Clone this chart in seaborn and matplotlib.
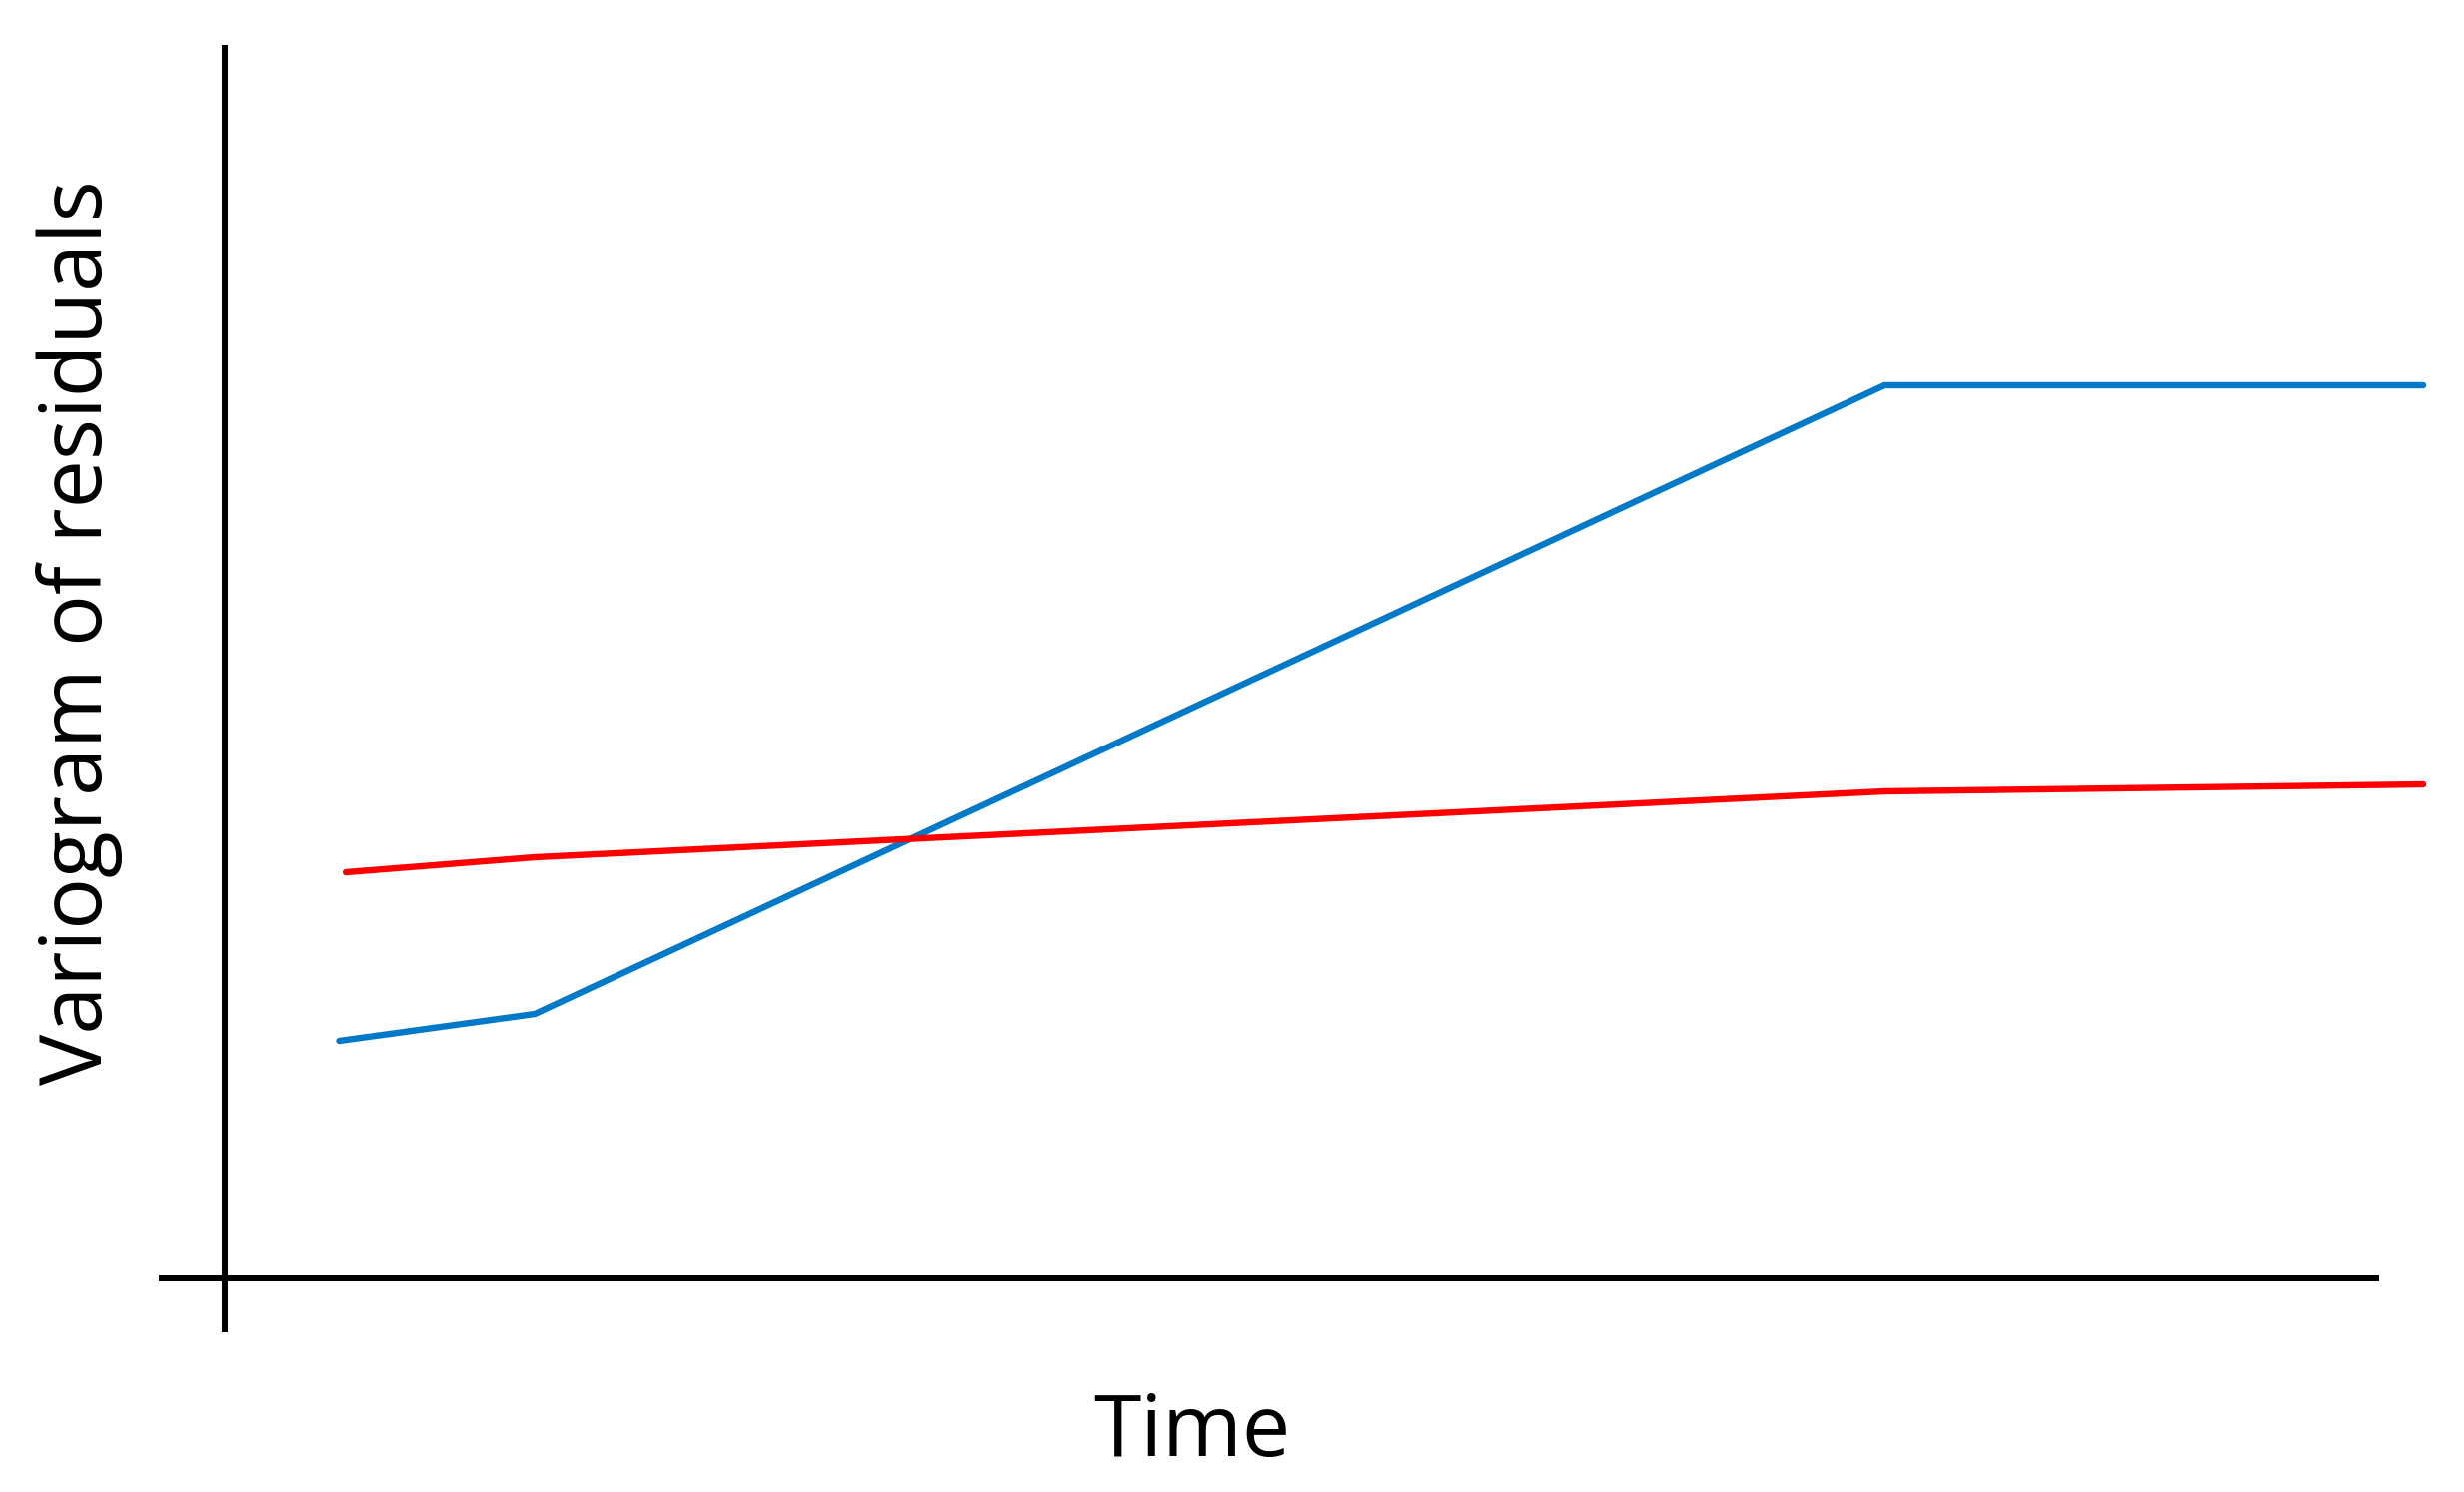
import pandas as pd
import matplotlib.pyplot as plt
import seaborn as sns

# Values (arbitrary units)
blue_time = [0.52, 1.41, 7.55, 10.0]
blue_vario = [2.37, 2.64, 8.94, 8.94]
red_time = [0.55, 1.41, 7.55, 10.0]
red_vario = [4.06, 4.21, 4.87, 4.94]

series_colors = {"blue": "#0079C9", "red": "#FF0000"}

# Build a long table for seaborn
df = pd.concat([
    pd.DataFrame({"Time": blue_time, "Variogram": blue_vario, "series": "blue"}),
    pd.DataFrame({"Time": red_time, "Variogram": red_vario, "series": "red"}),
], ignore_index=True)

sns.set_style("white")
plt.rcParams["font.family"] = ["Open Sans", "DejaVu Sans"]

fig = plt.figure(figsize=(24.66, 14.93), dpi=100)
ax = fig.add_axes([0, 0, 1, 1])

sns.lineplot(data=df, x="Time", y="Variogram", hue="series", palette=series_colors,
             sort=False, estimator=None, linewidth=4.6, legend=False, ax=ax)

ax.set_xlim(-1.023, 10.186)
ax.set_ylim(-2.14, 12.79)

# crossed axis lines
ax.spines["left"].set_position(("data", 0))
ax.spines["bottom"].set_position(("data", 0))
ax.spines["left"].set_bounds(-0.54, 12.34)
ax.spines["bottom"].set_bounds(-0.30, 9.80)
for side in ["left", "bottom"]:
    ax.spines[side].set_linewidth(4.3)
    ax.spines[side].set_color("black")
    ax.spines[side].set_capstyle("butt")
for side in ["top", "right"]:
    ax.spines[side].set_visible(False)

ax.set_xticks([])
ax.set_yticks([])
ax.set_xlabel("")
ax.set_ylabel("")
ax.patch.set_alpha(0)

fig.text(1193 / 2466, 1 - 1457 / 1493, "Time", fontsize=62, color="black",
         ha="center", va="baseline")
fig.text(102 / 2466, 1 - 633 / 1493, "Variogram of residuals", fontsize=62, color="black",
         rotation=90, rotation_mode="anchor", ha="center", va="baseline")

fig.savefig("out.png", dpi=100, facecolor="white")
